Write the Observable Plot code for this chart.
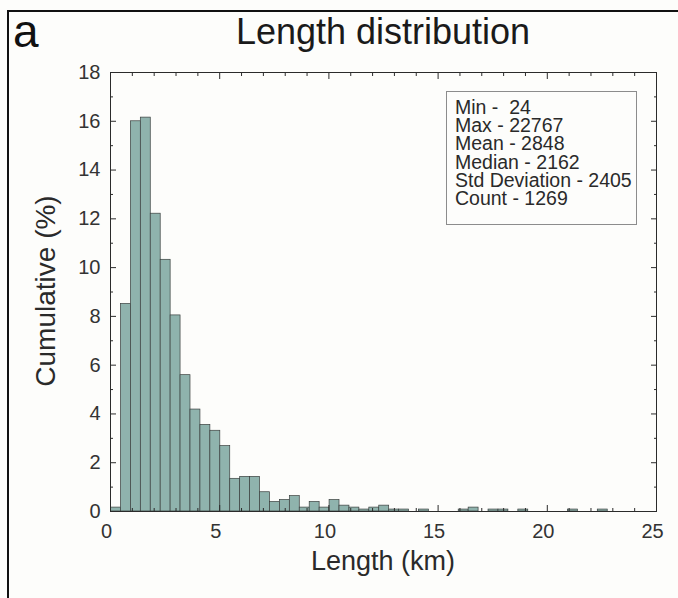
<!DOCTYPE html>
<html>
<head>
<meta charset="utf-8">
<script src="https://cdn.jsdelivr.net/npm/d3@7"></script>
<script src="https://cdn.jsdelivr.net/npm/@observablehq/plot@0.6"></script>
<style>
  html, body { margin: 0; padding: 0; background: #fdfdfb; }
  #wrap { position: relative; width: 678px; height: 598px; overflow: hidden; background: #fdfdfb;
          font-family: "Liberation Sans", Arial, Helvetica, sans-serif; color: #1e1e1e; }
  #frame { position: absolute; left: 7px; top: 10px; width: 720px; height: 640px;
           border-left: 2px solid #111; border-top: 2px solid #111; }
  #chart { position: absolute; left: 0; top: 0; }
  .lbl { position: absolute; white-space: nowrap; line-height: 1; }
  #panel { left: 13px; top: 8px; font-size: 46px; color: #111; }
  #title { left: 383px; top: 13.5px; font-size: 36px; transform: translateX(-50%); color: #1a1a1a; }
  #xlabel { left: 383px; top: 548px; font-size: 27px; transform: translateX(-50%); color: #2a2a2a; }
  #ylabel { left: 46px; top: 291px; font-size: 28px; transform: translate(-50%, -50%) rotate(-90deg); color: #2a2a2a; }
  #stats { position: absolute; left: 446px; top: 91px; width: 191px; height: 134px; box-sizing: border-box;
           border: 1px solid #8c8c8c; background: #fdfdfb; padding: 6px 0 0 8px;
           font-size: 19.5px; line-height: 18.2px; color: #2a2a2a; white-space: pre; }
</style>
</head>
<body>
<div id="wrap">
  <div id="frame"></div>
  <div id="chart"></div>
  <div id="panel" class="lbl">a</div>
  <div id="title" class="lbl">Length distribution</div>
  <div id="xlabel" class="lbl">Length (km)</div>
  <div id="ylabel" class="lbl">Cumulative (%)</div>
  <div id="stats"></div>
</div>
<script>
// ---- data ----
// 50 histogram bins spanning Min..Max (km)
const lengthMinKm = 0.024;
const lengthMaxKm = 22.767;
const binCount = 50;
// percentage of segments per bin
const binPercent = [
  0.16, 8.51, 16.00, 16.15, 12.21, 10.32, 8.04, 5.59, 4.18, 3.55,
  3.31, 2.68, 1.34, 1.42, 1.42, 0.79, 0.39, 0.47, 0.63, 0.16,
  0.39, 0.16, 0.47, 0.24, 0.16, 0.08, 0.16, 0.24, 0.08, 0.08,
  0.00, 0.08, 0.00, 0.00, 0.00, 0.08, 0.16, 0.00, 0.08, 0.08,
  0.00, 0.08, 0.00, 0.00, 0.00, 0.00, 0.08, 0.00, 0.00, 0.08
];
const xMajorTicks = [0, 5, 10, 15, 20, 25];
const xMinorTicks = [1, 2, 3, 4, 6, 7, 8, 9, 11, 12, 13, 14, 16, 17, 18, 19, 21, 22, 23, 24];
const yMajorTicks = [0, 2, 4, 6, 8, 10, 12, 14, 16, 18];
const yMinorTicks = [1, 3, 5, 7, 9, 11, 13, 15, 17];
const statLabels = ["Min", "Max", "Mean", "Median", "Std Deviation", "Count"];
const statValues = [" 24", "22767", "2848", "2162", "2405", "1269"];

// ---- build ----
const binWidthKm = (lengthMaxKm - lengthMinKm) / binCount;
const bins = binPercent.map((v, i) => ({
  x1: lengthMinKm + i * binWidthKm,
  x2: lengthMinKm + (i + 1) * binWidthKm,
  pct: v
}));

const axisColor = "#2b2b2b";
const barFill = "#8fb3ad";
const barEdge = "#3a3f3e";
const font = '"Liberation Sans", Arial, Helvetica, sans-serif';

const tickOnly = (anchor, ticks, size, isY) => (isY ? Plot.axisY : Plot.axisX)({
  anchor, ticks, tickSize: size, fill: "none", stroke: axisColor, label: null
});

const chart = Plot.plot({
  width: 678,
  height: 598,
  marginLeft: 110,
  marginRight: 22,
  marginTop: 72,
  marginBottom: 87,
  style: { background: "transparent", fontFamily: font, color: axisColor, overflow: "visible" },
  x: { domain: [0, 25] },
  y: { domain: [0, 18] },
  marks: [
    Plot.rectY(bins, { x1: "x1", x2: "x2", y: "pct", fill: barFill, stroke: barEdge, strokeWidth: 0.7 }),
    Plot.frame({ stroke: axisColor, strokeWidth: 1 }),
    tickOnly("bottom", xMinorTicks, -3, false),
    tickOnly("bottom", xMajorTicks, -6, false),
    tickOnly("top", xMinorTicks, -3, false),
    tickOnly("top", xMajorTicks, -6, false),
    tickOnly("left", yMinorTicks, -3, true),
    tickOnly("left", yMajorTicks, -6, true),
    tickOnly("right", yMinorTicks, -3, true),
    tickOnly("right", yMajorTicks, -6, true),
    Plot.axisX({ anchor: "bottom", ticks: xMajorTicks, tickSize: 0, tickPadding: 12, fontSize: 20,
                 dx: -4, fill: "#333", label: null }),
    Plot.axisY({ anchor: "left", ticks: yMajorTicks, tickSize: 0, tickPadding: 10, fontSize: 20,
                 fill: "#333", label: null })
  ]
});
document.getElementById("chart").appendChild(chart);

document.getElementById("stats").textContent =
  statLabels.map((l, i) => `${l} - ${statValues[i]}`).join("\n");
</script>
</body>
</html>
